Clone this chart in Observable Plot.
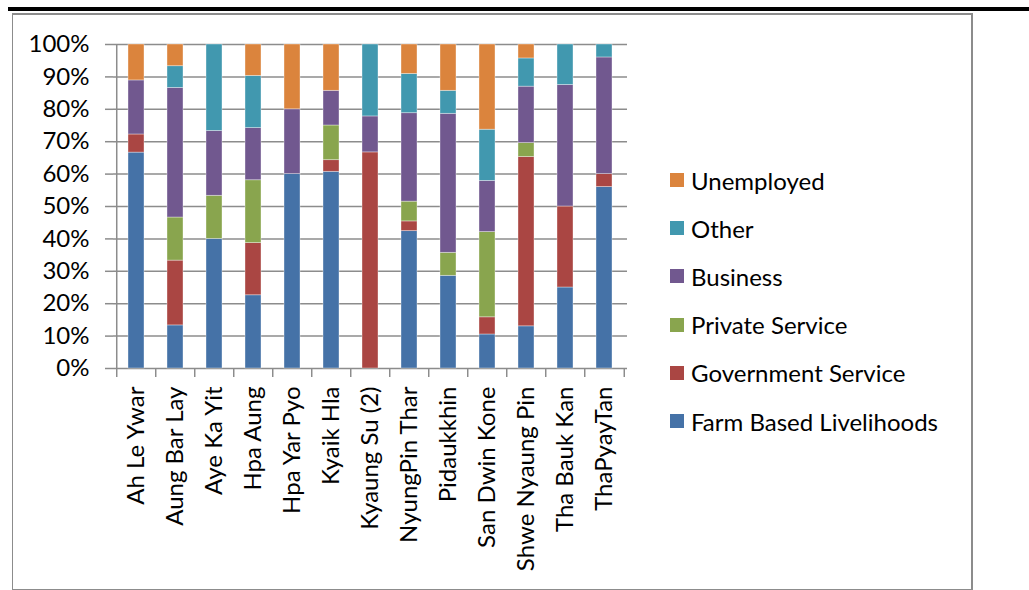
<!DOCTYPE html>
<html>
<head>
<meta charset="utf-8">
<script src="https://cdn.jsdelivr.net/npm/d3@7"></script>
<script src="https://cdn.jsdelivr.net/npm/@observablehq/plot@0.6"></script>
<style>
  html, body { margin: 0; padding: 0; background: #fff; }
  body { width: 1029px; height: 590px; position: relative; overflow: hidden; font-family: Lato, "Noto Sans", sans-serif; }
  #topline { position: absolute; left: 8px; top: 7px; width: 1021px; height: 4px; background: #000; }
  #frame { position: absolute; left: 12px; top: 13px; width: 958px; height: 574px; border: 2px solid #8c8c8c; border-left-width: 1px; }
  #chart { position: absolute; left: 0; top: 0; }
  #legend { position: absolute; left: 670px; top: 0; font-size: 24px; color: #000; }
  .item { position: absolute; left: 0; white-space: nowrap; display: flex; align-items: center; height: 30px; }
  .sw { width: 14px; height: 14px; margin-right: 7px; display: inline-block; }
</style>
</head>
<body>
<div id="topline"></div>
<div id="frame"></div>
<div id="chart"></div>
<div id="legend"></div>
<script>
const villages = ["Ah Le Ywar", "Aung Bar Lay", "Aye Ka Yit", "Hpa Aung", "Hpa Yar Pyo", "Kyaik Hla", "Kyaung Su (2)", "NyungPin Thar", "Pidaukkhin", "San Dwin Kone", "Shwe Nyaung Pin", "Tha Bauk Kan", "ThaPyayTan"];
const series = ["Farm Based Livelihoods", "Government Service", "Private Service", "Business", "Other", "Unemployed"];
const colors = ["#4572A7", "#AA4643", "#89A54E", "#71588F", "#4198AF", "#DB843D"];
// percentages per village, in series order
const farm       = [66.7, 13.3, 40.0, 22.6, 60.0, 60.7,  0.0, 42.4, 28.6, 10.5, 13.0, 25.0, 56.0];
const government = [ 5.6, 20.0,  0.0, 16.1,  0.0,  3.6, 66.7,  3.0,  0.0,  5.3, 52.2, 25.0,  4.0];
const privateSvc = [ 0.0, 13.3, 13.3, 19.4,  0.0, 10.7,  0.0,  6.1,  7.1, 26.3,  4.3,  0.0,  0.0];
const business   = [16.7, 40.0, 20.0, 16.1, 20.0, 10.7, 11.1, 27.3, 42.9, 15.8, 17.4, 37.5, 36.0];
const other      = [ 0.0,  6.7, 26.7, 16.1,  0.0,  0.0, 22.2, 12.1,  7.1, 15.8,  8.7, 12.5,  4.0];
const unemployed = [11.1,  6.7,  0.0,  9.7, 20.0, 14.3,  0.0,  9.1, 14.3, 26.3,  4.3,  0.0,  0.0];
const yTicks = [0, 0.1, 0.2, 0.3, 0.4, 0.5, 0.6, 0.7, 0.8, 0.9, 1.0];

const valuesBySeries = [farm, government, privateSvc, business, other, unemployed];
const data = [];
villages.forEach((v, i) => {
  series.forEach((s, j) => data.push({village: v, series: s, value: valuesBySeries[j][i]}));
});

const W = 640, H = 586, ML = 113, MR = 13, MT = 44, MB = 218;
const step = (W - ML - MR) / villages.length;
const gridColor = "#8c8c8c";

const chart = Plot.plot({
  width: W, height: H,
  marginLeft: ML, marginRight: MR, marginTop: MT, marginBottom: MB,
  style: {fontFamily: "Lato, 'Noto Sans', sans-serif", fontSize: "24px", color: "#000", background: "transparent"},
  x: {domain: villages, paddingInner: 0.6, paddingOuter: 0.3, label: null},
  y: {domain: [0, 1], label: null},
  color: {domain: series, range: colors},
  marks: [
    Plot.ruleY(yTicks, {stroke: gridColor, strokeWidth: 1.5}),
    Plot.axisY({ticks: yTicks, tickFormat: d3.format(".0%"), tickSize: 8, tickPadding: 16, stroke: gridColor, strokeWidth: 1.5, strokeOpacity: 1, fontSize: 24, label: null}),
    Plot.axisX({tickRotate: -90, tickSize: 0, tickPadding: 18, fontSize: 24, label: null}),
    Plot.ruleX(villages, {x: d => d, y1: 0, y2: 0, insetBottom: -9, dx: -step / 2, stroke: gridColor, strokeWidth: 1.5}),
    Plot.ruleX([villages[villages.length - 1]], {x: d => d, y1: 0, y2: 0, insetBottom: -9, dx: step / 2, stroke: gridColor, strokeWidth: 1.5}),
    Plot.ruleX([villages[0]], {x: d => d, y1: 0, y2: 1, dx: -step / 2, stroke: gridColor, strokeWidth: 1.5}),
    Plot.barY(data, Plot.stackY({x: "village", y: "value", fill: "series", order: series, offset: "normalize", stroke: "#ffffff", strokeOpacity: 0.45, strokeWidth: 0.8}))
  ]
});
document.getElementById("chart").appendChild(chart);

const legend = document.getElementById("legend");
const legendOrder = series.slice().reverse();
const legendColors = colors.slice().reverse();
legendOrder.forEach((s, k) => {
  const it = document.createElement("div");
  it.className = "item";
  it.style.top = (180 + k * 48.2 - 15) + "px";
  const sw = document.createElement("span");
  sw.className = "sw";
  sw.style.background = legendColors[k];
  const tx = document.createElement("span");
  tx.textContent = s;
  it.appendChild(sw); it.appendChild(tx);
  legend.appendChild(it);
});
</script>
</body>
</html>
